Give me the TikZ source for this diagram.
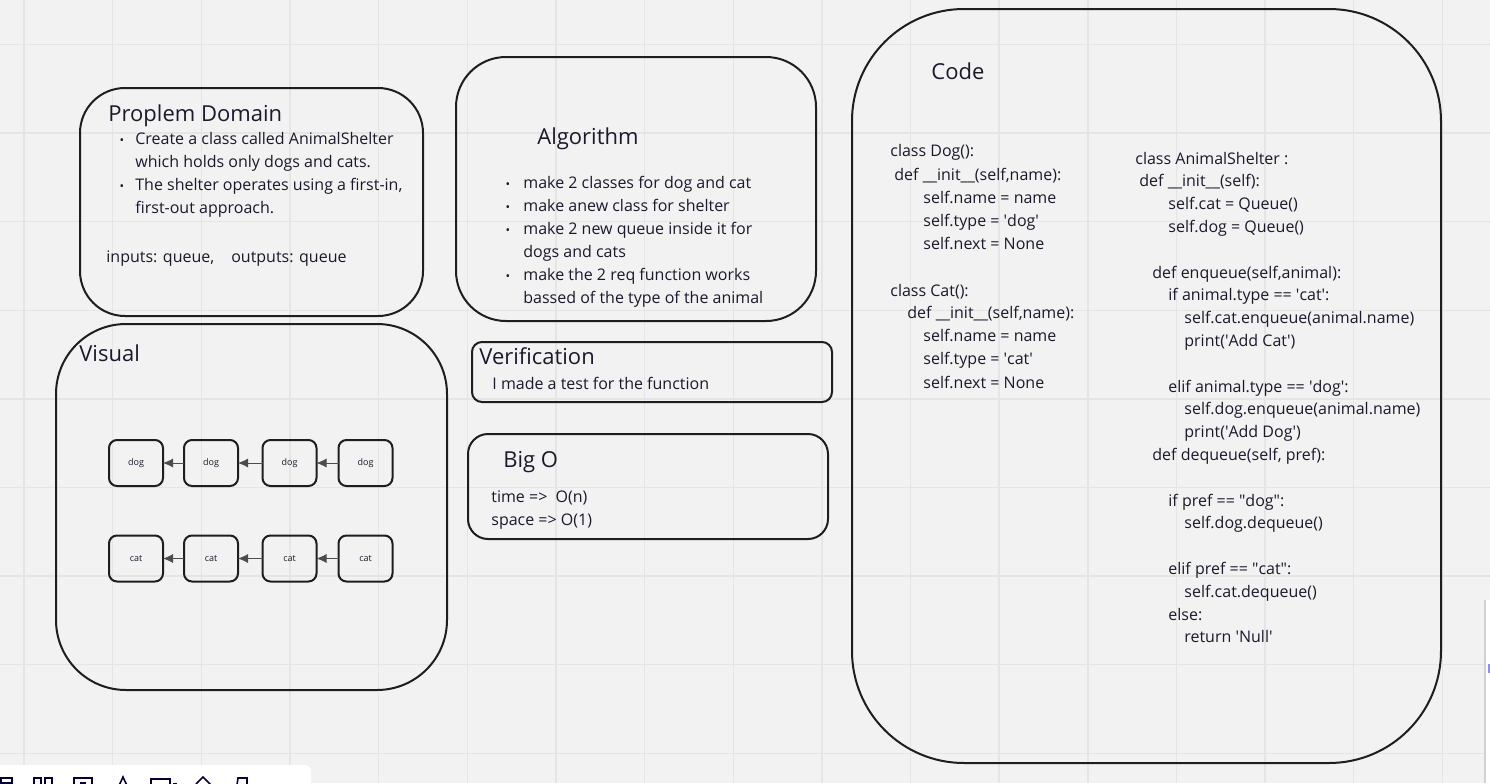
\documentclass[tikz,border=0pt]{standalone}
\usepackage{fontspec}
\setmainfont{Open Sans}
\usetikzlibrary{arrows.meta}
\definecolor{bg}{HTML}{F2F2F2}
\definecolor{gridc}{HTML}{E5E5E5}
\definecolor{ink}{HTML}{1A1A2C}
\definecolor{edge}{HTML}{1E1E1E}
\definecolor{iconc}{HTML}{050038}
\newcommand\apo{\textquotesingle}
\newcommand\dq{\textquotedbl}
\begin{document}
\begin{tikzpicture}[x=0.5pt,y=-0.5pt,
  frame/.style={draw=edge, line width=1pt, inner sep=0pt, outer sep=0pt},
  title/.style={anchor=base west, inner sep=0pt, text=ink, font=\fontsize{11}{13}\selectfont},
  body/.style={anchor=base west, inner sep=0pt, text=ink, font=\fontsize{8}{11.5}\selectfont},
  bul/.style={anchor=base, inner sep=0pt, text=ink, font=\fontsize{6}{7}\selectfont},
  cell/.style={frame, rounded corners=4pt, minimum width=27pt, minimum height=23pt, text=ink, font=\fontsize{4.5}{5}\selectfont},
  link/.style={draw=gray!60!black, line width=0.4pt, -{Latex[length=5pt,width=4.5pt]}},
  icon/.style={draw=iconc, line width=0.8pt},
]
\fill[bg] (0,0) rectangle (1490,783);
\useasboundingbox (0,0) rectangle (1490,783);
% grid
\foreach \gx in {0,...,16} \draw[gridc, line width=0.7pt] ({24+88.65*\gx},0) -- ++(0,783);
\foreach \gy in {0,...,8} \draw[gridc, line width=0.7pt] (0,{44.5+88.6*\gy}) -- ++(1490,0);

% frames
\node[frame, rounded corners=22.5pt, minimum width=171.5pt, minimum height=114pt] (pd) at (251.5,202) {};
\node[frame, rounded corners=25pt, minimum width=180pt, minimum height=132pt] (alg) at (636,189) {};
\node[frame, rounded corners=35pt, minimum width=195.5pt, minimum height=183pt] (vis) at (251.5,507) {};
\node[frame, rounded corners=5pt, minimum width=180pt, minimum height=30pt] (ver) at (652,372) {};
\node[frame, rounded corners=10pt, minimum width=180pt, minimum height=52.5pt] (bigo) at (648,486.5) {};
\node[frame, rounded corners=56pt, minimum width=294.5pt, minimum height=377pt] (code) at (1146.5,386) {};

% Problem domain
\node[title] (pdt) at (108,121) {Proplem Domain};
\node[bul] (pdb1) at (122,144) {\textbullet};
\node[bul] (pdb2) at (122,190) {\textbullet};
\node[body] (pd1) at (135,144) {Create a class called AnimalShelter};
\node[body] (pd2) at (135,167) {which holds only dogs and cats.};
\node[body] (pd3) at (135,190) {The shelter operates using a first-in,};
\node[body] (pd4) at (135,213) {first-out approach.};
\node[body] (pd5) at (106,262) {inputs: queue,\hspace*{8.5pt}outputs: queue};

% Algorithm
\node[title] (algt) at (537,144) {Algorithm};
\foreach \by [count=\i] in {188,211,234,280} \node[bul, name=algb\i] at (508,\by) {\textbullet};
\node[body] (al1) at (523,188) {make 2 classes for dog and cat};
\node[body] (al2) at (523,211) {make anew class for shelter};
\node[body] (al3) at (523,234) {make 2 new queue inside it for};
\node[body] (al4) at (523,257) {dogs and cats};
\node[body] (al5) at (523,280) {make the 2 req function works};
\node[body] (al6) at (523,303) {bassed of the type of the animal};

% Verification
\node[title] (vert) at (479,364) {Verification};
\node[body] (ver1) at (492,389) {I made a test for the function};

% Big O
\node[title] (bigt) at (503,467) {Big O};
\node[body] (big1) at (491,502) {time =>\ \ O(n)};
\node[body] (big2) at (491,525) {space => O(1)};

% Visual
\node[title] (vist) at (79,361) {Visual};
\node[cell] (d1) at (136,463) {dog};
\node[cell] (d2) at (211,463) {dog};
\node[cell] (d3) at (289.5,463) {dog};
\node[cell] (d4) at (365.5,463) {dog};
\node[cell] (c1) at (136,558.5) {cat};
\node[cell] (c2) at (211,558.5) {cat};
\node[cell] (c3) at (289.5,558.5) {cat};
\node[cell] (c4) at (365.5,558.5) {cat};
\draw[link] (d2) -- (d1);
\draw[link] (d3) -- (d2);
\draw[link] (d4) -- (d3);
\draw[link] (c2) -- (c1);
\draw[link] (c3) -- (c2);
\draw[link] (c4) -- (c3);

% Code
\node[title] (codet) at (931,79) {Code};
\foreach \x/\y/\t [count=\i] in {
  890/156/{class Dog():},
  894/180/{def \_\_init\_\_(self,name):},
  923/203/{self.name = name},
  923/226/{self.type = \apo dog\apo},
  923/249/{self.next = None},
  890/296/{class Cat():},
  907/318/{def \_\_init\_\_(self,name):},
  923/341/{self.name = name},
  923/364/{self.type = \apo cat\apo},
  923/388/{self.next = None}}
  \node[body, name=cl\i] at (\x,\y) {\t};
\foreach \x/\k/\t [count=\i] in {
  1135/0/{class AnimalShelter :},
  1139/1/{def \_\_init\_\_(self):},
  1168/2/{self.cat = Queue()},
  1168/3/{self.dog = Queue()},
  1152/5/{def enqueue(self,animal):},
  1168/6/{if animal.type == \apo cat\apo:},
  1184/7/{self.cat.enqueue(animal.name)},
  1184/8/{print(\apo Add Cat\apo)},
  1168/10/{elif animal.type == \apo dog\apo:},
  1184/11/{self.dog.enqueue(animal.name)},
  1184/12/{print(\apo Add Dog\apo)},
  1152/13/{def dequeue(self, pref):},
  1168/15/{if pref == \dq dog\dq:},
  1184/16/{self.dog.dequeue()},
  1168/18/{elif pref == \dq cat\dq:},
  1184/19/{self.cat.dequeue()},
  1168/20/{else:},
  1184/21/{return \apo Null\apo}}
  \node[body, name=cr\i] at (\x,{164+22.8*\k}) {\t};

% bottom toolbar
\fill[white, rounded corners=3pt] (-10,765) rectangle (311,800);
\draw[icon] (1,778) rectangle (12,792) (1,783) -- (12,783);
\draw[icon] (34,778) rectangle (41,792) (45,778) rectangle (52,792);
\draw[icon] (74,792) -- (74,778) -- (92,778) -- (92,792) (80,783) -- (86,783);
\draw[icon] (117,790) -- (123,777) -- (129,790);
\draw[icon] (151,779) rectangle (170,792) (173,784) -- (177,784);
\draw[icon] (196,784) -- (203,777) -- (210,784) -- (210,792) (196,784) -- (196,792);
\draw[icon] (236,792) -- (238,778) -- (247,778) -- (247,792);

% right side panel
\fill[white] (1485,600) rectangle (1500,790);
\draw[gray!35, line width=0.6pt] (1485,600) -- (1485,783);
\fill[blue!45] (1488,664) rectangle (1490,673);
\end{tikzpicture}
\end{document}
